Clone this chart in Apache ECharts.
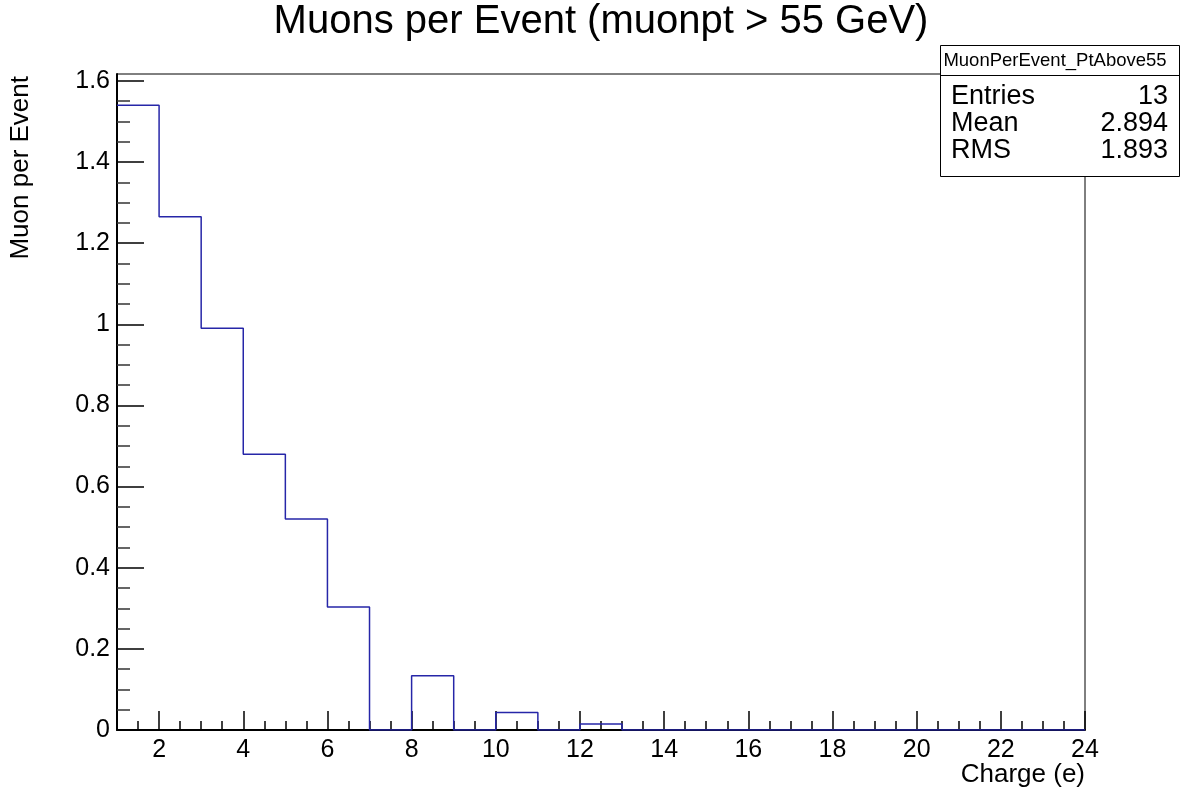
<!DOCTYPE html>
<html>
<head>
<meta charset="utf-8">
<script src="https://cdn.jsdelivr.net/npm/echarts@6/dist/echarts.min.js"></script>
<style>
  html, body { margin: 0; padding: 0; background: #fff; }
  #chart { width: 1180px; height: 794px; }
</style>
</head>
<body>
<div id="chart"></div>
<script>
// Histogram: muons per event vs. charge, unit-width bins from 1 to 24
const binEdges = [1, 2, 3, 4, 5, 6, 7, 8, 9, 10, 11, 12, 13, 14, 15, 16, 17, 18, 19, 20, 21, 22, 23, 24];
const binValues = [1.54, 1.265, 0.99, 0.68, 0.52, 0.303, 0, 0.134, 0, 0.043, 0, 0.015,
                   0, 0, 0, 0, 0, 0, 0, 0, 0, 0, 0];
const xTickLabels = [2, 4, 6, 8, 10, 12, 14, 16, 18, 20, 22, 24];
const yTickLabels = [0, 0.2, 0.4, 0.6, 0.8, 1, 1.2, 1.4, 1.6];
const statsTitle = 'MuonPerEvent_PtAbove55';
const statsNames = ['Entries', 'Mean', 'RMS'];
const statsValues = ['13', '2.894', '1.893'];

const xMin = binEdges[0], xMax = binEdges[binEdges.length - 1];
const yMax = 1.617;

// minor ticks: every half unit on x, every 0.05 on y
const xMinor = [];
for (let v = xMin + 0.5; v < xMax; v += 0.5) xMinor.push(v);
const yMinor = [];
for (let i = 1; i < yTickLabels.length; i++) {
  const a = yTickLabels[i - 1], b = yTickLabels[i];
  for (let k = 1; k < 4; k++) yMinor.push(+(a + (b - a) * k / 4).toFixed(3));
}

// step outline: one point per lower bin edge, plus the closing edge
const stepData = binValues.map((v, i) => [binEdges[i], v]);
stepData.push([binEdges[binEdges.length - 1], binValues[binValues.length - 1]]);

const FONT = '"Liberation Sans", Arial, Helvetica, sans-serif';
const chart = echarts.init(document.getElementById('chart'), null, { renderer: 'canvas' });

const statsLeft = 940.5, statsTop = 45.5, statsW = 239, statsH = 131, headerH = 30;
const statsGraphics = [
  { type: 'rect', shape: { x: statsLeft, y: statsTop, width: statsW, height: statsH },
    style: { fill: '#fff', stroke: '#000', lineWidth: 1 }, z: 100 },
  { type: 'line', shape: { x1: statsLeft, y1: statsTop + headerH, x2: statsLeft + statsW, y2: statsTop + headerH },
    style: { stroke: '#000', lineWidth: 1 }, z: 101 },
  { type: 'text', x: 1055, y: statsTop + headerH / 2, z: 101,
    style: { text: statsTitle, font: '18.5px ' + FONT, fill: '#000', align: 'center', verticalAlign: 'middle' } }
];
statsNames.forEach((name, i) => {
  const cy = 97 + i * 27;
  statsGraphics.push(
    { type: 'text', x: 951, y: cy, z: 101,
      style: { text: name, font: '27px ' + FONT, fill: '#000', align: 'left', verticalAlign: 'middle' } },
    { type: 'text', x: 1168, y: cy, z: 101,
      style: { text: statsValues[i], font: '27px ' + FONT, fill: '#000', align: 'right', verticalAlign: 'middle' } }
  );
});

const option = {
  animation: false,
  backgroundColor: '#fff',
  grid: { left: 117, right: 95, top: 74, bottom: 64, show: true, borderColor: '#000', borderWidth: 1 },
  xAxis: [
    {
      type: 'value', min: xMin, max: xMax,
      axisLine: { show: true, onZero: false, lineStyle: { color: '#000', width: 2 } },
      axisTick: { show: true, inside: true, length: 19, customValues: xTickLabels, lineStyle: { color: '#000', width: 1.5 } },
      axisLabel: { customValues: xTickLabels, color: '#000', fontSize: 25, fontFamily: FONT, margin: 8 },
      splitLine: { show: false }
    },
    {
      type: 'value', min: xMin, max: xMax, position: 'bottom',
      axisLine: { show: false },
      axisTick: { show: true, inside: true, length: 9, customValues: xMinor, lineStyle: { color: '#000', width: 1.5 } },
      axisLabel: { show: false },
      splitLine: { show: false }
    }
  ],
  yAxis: [
    {
      type: 'value', min: 0, max: yMax,
      axisLine: { show: true, onZero: false, lineStyle: { color: '#000', width: 2 } },
      axisTick: { show: true, inside: true, length: 27, customValues: yTickLabels, lineStyle: { color: '#000', width: 1.5 } },
      axisLabel: { customValues: yTickLabels, color: '#000', fontSize: 25, fontFamily: FONT, margin: 7,
                   formatter: v => String(+(+v).toFixed(2)) },
      splitLine: { show: false }
    },
    {
      type: 'value', min: 0, max: yMax, position: 'left',
      axisLine: { show: false },
      axisTick: { show: true, inside: true, length: 13, customValues: yMinor, lineStyle: { color: '#333', width: 1.5 } },
      axisLabel: { show: false },
      splitLine: { show: false }
    }
  ],
  series: [{
    type: 'line', step: 'end', data: stepData,
    xAxisIndex: 0, yAxisIndex: 0,
    showSymbol: false, symbol: 'none',
    lineStyle: { color: '#2626a8', width: 1.5 },
    z: 3
  }],
  graphic: [
    { type: 'text', x: 601, y: 22,
      style: { text: 'Muons per Event (muonpt > 55 GeV)', font: '40px ' + FONT, fill: '#000',
               align: 'center', verticalAlign: 'middle' } },
    { type: 'text', x: 1085, y: 775,
      style: { text: 'Charge (e)', font: '26px ' + FONT, fill: '#000', align: 'right', verticalAlign: 'middle' } },
    { type: 'text', x: 21, y: 76, rotation: Math.PI / 2,
      style: { text: 'Muon per Event', font: '26px ' + FONT, fill: '#000', align: 'right', verticalAlign: 'middle' } }
  ].concat(statsGraphics)
};

chart.setOption(option);
</script>
</body>
</html>
